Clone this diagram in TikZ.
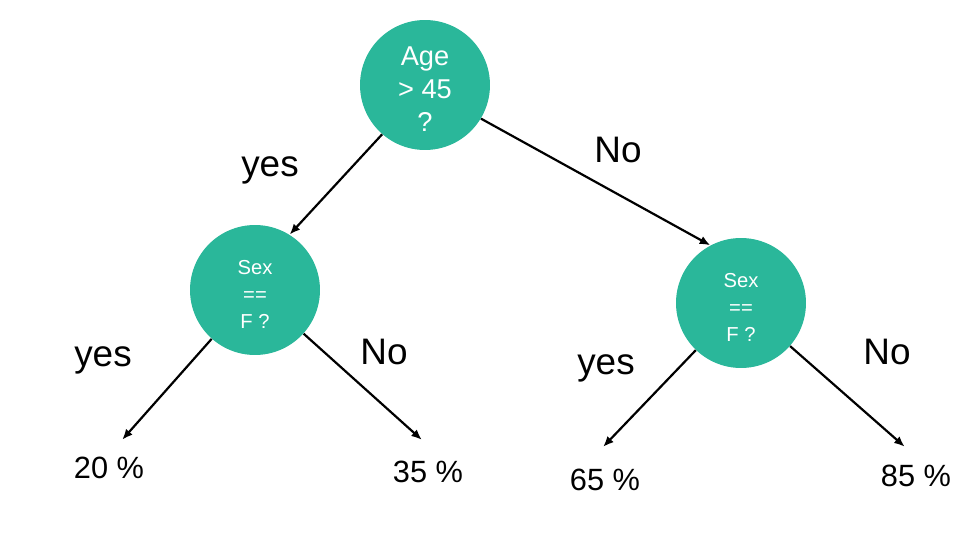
\documentclass[tikz,border=0pt]{standalone}
\usepackage{fontspec}
\setmainfont{Liberation Sans}
\usepackage{xcolor}
\definecolor{teal}{RGB}{42,183,154}
\usetikzlibrary{positioning, calc, shapes, arrows.meta, arrows, decorations.markings}
\tikzstyle{Split} = [
circle,
fill=teal,
text=white,
minimum size=2.6cm,
inner sep=0pt,
align=center]
\tikzstyle{Arrow} = [
line width=1.25pt,
decoration={
markings,
mark=at position 0.9999 with {
\arrow[line width=1.25pt]{Latex[length=6pt, width=5pt]}}},
shorten >= 3pt, preaction = {decorate}]
\tikzstyle{Answer} = [font=\fontsize{21}{24}\selectfont]
\tikzstyle{Leaf} = [font=\fontsize{17.5}{20}\selectfont]

\begin{document}
\begin{tikzpicture}[x=0.02cm, y=-0.02cm]
    \useasboundingbox (0,0) rectangle (975,551);
    \node [Split, font=\fontsize{15.5}{18.8}\selectfont] (age) at (425,85) {\rule{0pt}{15.6pt}Age\\> 45\\?};
    \node [Split, font=\fontsize{11.5}{15.3}\selectfont] (sexL) at (255,290) {\rule{0pt}{12.8pt}Sex\\==\\F ?};
    \node [Split, font=\fontsize{11.5}{15.3}\selectfont] (sexR) at (741,303) {\rule{0pt}{12.8pt}Sex\\==\\F ?};

    \node [Leaf] (p20) at (109,468) {20 \%};
    \node [Leaf] (p35) at (428,472) {35 \%};
    \node [Leaf] (p65) at (605,480) {65 \%};
    \node [Leaf] (p85) at (916,476) {85 \%};

    \coordinate (t20) at (122,440);
    \coordinate (t35) at (422,440);
    \coordinate (t65) at (603,447);
    \coordinate (t85) at (905,447);

    \node [Answer] (y1) at (270,170) {yes};
    \node [Answer] (n1) at (618,150) {No};
    \node [Answer] (y2) at (103,360) {yes};
    \node [Answer] (n2) at (384,352) {No};
    \node [Answer] (y3) at (606,368) {yes};
    \node [Answer] (n3) at (887,352) {No};

    \draw[Arrow] (age.229) -- (sexL.58);
    \draw[Arrow] (age.329) -- (sexR.118);
    \draw[Arrow] (sexL) -- (t20);
    \draw[Arrow] (sexL) -- (t35);
    \draw[Arrow] (sexR) -- (t65);
    \draw[Arrow] (sexR) -- (t85);
\end{tikzpicture}
\end{document}
